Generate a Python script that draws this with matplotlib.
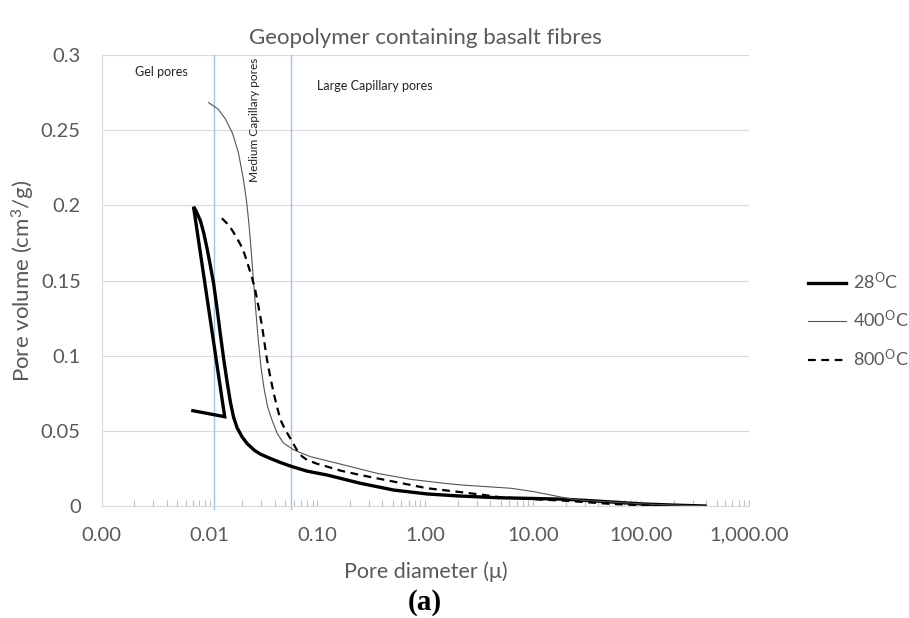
import matplotlib
matplotlib.use("Agg")
import matplotlib.pyplot as plt
from matplotlib.ticker import FixedLocator, LogLocator, NullFormatter, FixedFormatter

plt.rcParams['font.family'] = ['Lato', 'DejaVu Sans']
plt.rcParams['mathtext.fontset'] = 'custom'
plt.rcParams['mathtext.rm'] = 'Lato'
plt.rcParams['mathtext.it'] = 'Lato:italic'

# ---- data ----
d28 = [0.0070, 0.0138, 0.0071, 0.0074, 0.0082, 0.0088, 0.0094, 0.0101, 0.0109, 0.0117,
       0.0126, 0.0135, 0.0145, 0.0156, 0.0167, 0.0180, 0.0200, 0.0223, 0.0261, 0.0296,
       0.035, 0.045, 0.0565, 0.080, 0.123, 0.25, 0.51, 1.04, 2.0, 4.7, 10, 20,
       50, 100, 200, 390]
v28 = [0.0634, 0.0594, 0.199, 0.197, 0.190, 0.182, 0.1725, 0.161, 0.148, 0.132,
       0.114, 0.098, 0.083, 0.069, 0.059, 0.052, 0.046, 0.0415, 0.0370, 0.0345,
       0.0322, 0.0290, 0.0265, 0.0232, 0.0206, 0.0151, 0.0106, 0.0080, 0.0067, 0.0055, 0.0050, 0.0045,
       0.0028, 0.0014, 0.0006, 0.0]

d400 = [0.0098, 0.0120, 0.0140, 0.0163, 0.0185, 0.0205, 0.0220, 0.0232, 0.0243, 0.0255,
        0.0268, 0.0283, 0.0300, 0.0320, 0.0345, 0.0379, 0.0423, 0.0487, 0.0604, 0.0863,
        0.176, 0.359, 0.733, 1.5, 2.14, 6.2, 10.2, 20.8, 30, 50, 100, 200, 390]
v400 = [0.2683, 0.2640, 0.2575, 0.2480, 0.2350, 0.2180, 0.2030, 0.1870, 0.1700, 0.1500,
        0.1300, 0.1100, 0.0920, 0.0780, 0.0660, 0.0572, 0.0483, 0.0417, 0.0373, 0.0328,
        0.0273, 0.0217, 0.0177, 0.0151, 0.0140, 0.0118, 0.0095, 0.0051, 0.0036, 0.0028, 0.0014, 0.0006, 0.0]

d800 = [0.0130, 0.0145, 0.0160, 0.0175, 0.0193, 0.0210, 0.0228, 0.0247, 0.0266, 0.0285,
        0.0307, 0.0325, 0.0341, 0.0365, 0.0393, 0.0425, 0.0455, 0.0500, 0.0565, 0.0648,
        0.0720, 0.0802, 0.100, 0.123, 0.164, 0.25, 0.51, 1.04, 1.98, 3.52,
        5, 10, 20, 50, 100, 150]
v800 = [0.1914, 0.1880, 0.1840, 0.1795, 0.1740, 0.1680, 0.1600, 0.1520, 0.1430, 0.1320,
        0.1193, 0.1070, 0.0971, 0.0860, 0.0750, 0.0650, 0.0572, 0.0510, 0.0445, 0.0370,
        0.0330, 0.0306, 0.0280, 0.0262, 0.0235, 0.0206, 0.0162, 0.0118, 0.0095, 0.0073,
        0.0058, 0.0045, 0.0035, 0.0015, 0.0005, 0.0]

region_bounds = [0.011, 0.057]
xticks = [0.001, 0.01, 0.1, 1, 10, 100, 1000]
xticklabels = ["0.00", "0.01", "0.10", "1.00", "10.00", "100.00", "1,000.00"]
yticks = [0, 0.05, 0.1, 0.15, 0.2, 0.25, 0.3]
yticklabels = ["0", "0.05", "0.1", "0.15", "0.2", "0.25", "0.3"]

txt = '#595959'
grid = '#D9D9D9'

fig = plt.figure(figsize=(9.09, 6.18), dpi=100)
ax = fig.add_axes([101.7/909, 1-506/618, (749-101.7)/909, (506-55)/618])

ax.set_xscale('log')
ax.set_xlim(0.001, 1000)
ax.set_ylim(0, 0.3)

for y in yticks[1:]:
    ax.axhline(y, color=grid, lw=0.8, zorder=0)

for xb in region_bounds:
    ax.plot([xb, xb], [-0.002, 0.3], color='#9DC3E6', lw=1.0, clip_on=False, zorder=1)

ax.plot(d28, v28, color='black', lw=2.4, solid_joinstyle='miter', label='28$^{\\mathrm{O}}$C', zorder=3)
ax.plot(d400, v400, color='#555555', lw=0.8, label='400$^{\\mathrm{O}}$C', zorder=3)
ax.plot(d800, v800, color='black', lw=1.6, dashes=(3.5, 2.5), label='800$^{\\mathrm{O}}$C', zorder=3)

for s in ['top', 'right']:
    ax.spines[s].set_visible(False)
ax.spines['left'].set_color(grid)
ax.spines['bottom'].set_color(grid)
ax.spines['left'].set_linewidth(0.8)
ax.spines['bottom'].set_linewidth(0.8)

ax.xaxis.set_major_locator(FixedLocator(xticks))
ax.xaxis.set_major_formatter(FixedFormatter(xticklabels))
ax.xaxis.set_minor_locator(LogLocator(base=10, subs=range(2, 10), numticks=20))
ax.xaxis.set_minor_formatter(NullFormatter())
ax.tick_params(axis='x', which='both', direction='in', length=4, color='#BFBFBF', width=0.8)
ax.tick_params(axis='x', which='major', labelsize=14.5, labelcolor=txt, pad=15)

ax.yaxis.set_major_locator(FixedLocator(yticks))
ax.yaxis.set_major_formatter(FixedFormatter(yticklabels))
ax.tick_params(axis='y', which='both', length=0, labelsize=14.5, labelcolor=txt, pad=15)

ax.set_xlabel('Pore diameter (\u03bc)', fontsize=15.5, color=txt, labelpad=13)
ax.set_ylabel('Pore volume (cm$^{3}$/g)', fontsize=16, color=txt, labelpad=2.5)
ax.set_title('Geopolymer containing basalt fibres', fontsize=16, color=txt, pad=8)

ax.text(0.00204, 0.2888, 'Gel pores', fontsize=9, color='#222222', va='center', ha='left')
ax.text(0.1, 0.2794, 'Large Capillary pores', fontsize=9, color='#222222', va='center', ha='left')
ax.text(0.026, 0.2985, 'Medium Capillary pores', fontsize=8.6, color='#222222', va='top', ha='center',
        rotation=90)

fig.text(425/909, 1-603/618, '(a)', fontsize=21, fontweight='bold', family='Liberation Serif',
         ha='center', va='center')

leg = fig.legend(loc='upper left', bbox_to_anchor=(808/909, 1-271/618), frameon=False,
                 fontsize=13, handlelength=2.1, handletextpad=0.4, labelspacing=0.95,
                 borderpad=0, borderaxespad=0)
for t in leg.get_texts():
    t.set_color(txt)

fig.savefig('out.png', dpi=100)
